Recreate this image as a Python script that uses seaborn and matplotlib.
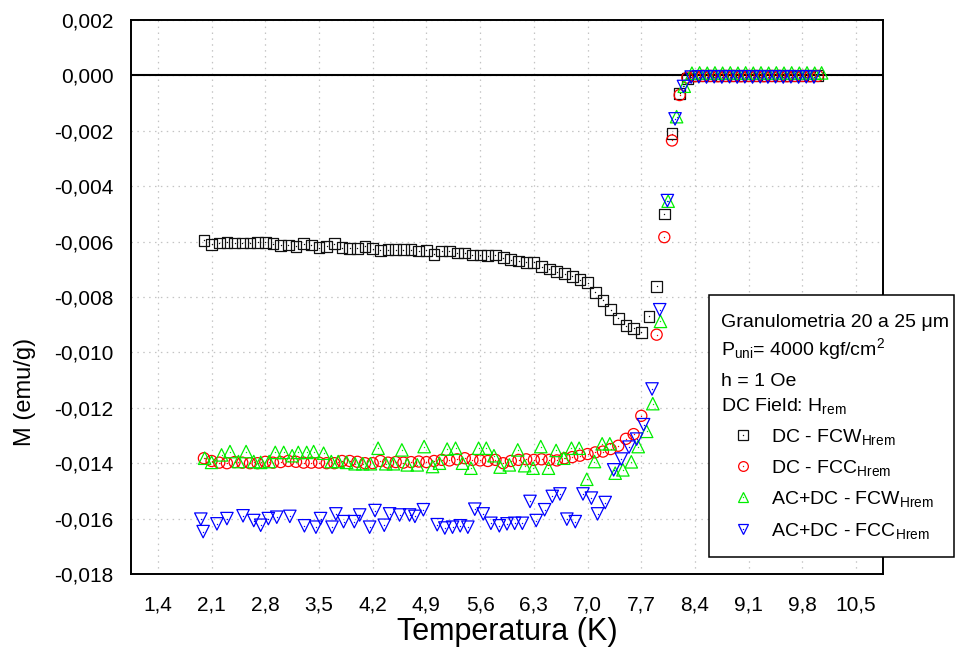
import numpy as np
import pandas as pd
import matplotlib
matplotlib.use("Agg")
import matplotlib.pyplot as plt
import seaborn as sns
from matplotlib import font_manager
from matplotlib.lines import Line2D
from matplotlib.patches import Rectangle
from matplotlib.ticker import FixedLocator, FuncFormatter

# ---------------- data ----------------
# DC - FCW (Hrem)  : black squares
T_dc_fcw = [2.0, 2.1, 2.2, 2.3, 2.4, 2.5, 2.6, 2.7, 2.8, 2.9,
            3.0, 3.1, 3.2, 3.3, 3.4, 3.5, 3.6, 3.7, 3.8, 3.9,
            4.0, 4.1, 4.2, 4.3, 4.4, 4.5, 4.6, 4.7, 4.8, 4.9,
            5.0, 5.1, 5.2, 5.3, 5.4, 5.5, 5.6, 5.7, 5.8, 5.9,
            6.0, 6.1, 6.2, 6.3, 6.4, 6.5, 6.6, 6.7, 6.8, 6.9,
            7.0, 7.1, 7.2, 7.3, 7.4, 7.5, 7.6, 7.7, 7.8, 7.9,
            8.0, 8.1, 8.2, 8.3, 8.4, 8.5, 8.6, 8.7, 8.8, 8.9,
            9.0, 9.1, 9.2, 9.3, 9.4, 9.5, 9.6, 9.7, 9.8, 9.9, 10.0]
M_dc_fcw = [-0.00595, -0.00610, -0.00605, -0.00602, -0.00605, -0.00605, -0.00605, -0.00602, -0.00602, -0.00607,
            -0.00614, -0.00612, -0.00617, -0.00607, -0.00612, -0.00622, -0.00617, -0.00607, -0.00622, -0.00624,
            -0.00624, -0.00617, -0.00626, -0.00631, -0.00629, -0.00629, -0.00629, -0.00629, -0.00634, -0.00631,
            -0.00646, -0.00634, -0.00634, -0.00641, -0.00641, -0.00648, -0.00648, -0.00651, -0.00648, -0.00658,
            -0.00665, -0.00670, -0.00675, -0.00675, -0.00691, -0.00699, -0.00708, -0.00716, -0.00725, -0.00737,
            -0.00749, -0.00783, -0.00812, -0.00846, -0.00877, -0.00904, -0.00913, -0.00928, -0.00870, -0.00761,
            -0.00500, -0.00211, -0.00065, -0.00010, -0.00002, 0.00000, 0.00001, 0.00000, 0.00001, 0.00000,
            0.00001, 0.00000, 0.00000, 0.00001, 0.00000, 0.00001, 0.00000, -0.00002, 0.00000, 0.00001, 0.00001]

# DC - FCC (Hrem)  : red circles
T_dc_fcc = [2.0, 2.1, 2.2, 2.3, 2.4, 2.5, 2.6, 2.7, 2.8, 2.9,
            3.0, 3.1, 3.2, 3.3, 3.4, 3.5, 3.6, 3.7, 3.8, 3.9,
            4.0, 4.1, 4.2, 4.3, 4.4, 4.5, 4.6, 4.7, 4.8, 4.9,
            5.0, 5.1, 5.2, 5.3, 5.4, 5.5, 5.6, 5.7, 5.8, 5.9,
            6.0, 6.1, 6.2, 6.3, 6.4, 6.5, 6.6, 6.7, 6.8, 6.9,
            7.0, 7.1, 7.2, 7.3, 7.4, 7.5, 7.6, 7.7, 7.9,
            8.0, 8.1, 8.2, 8.3, 8.4, 8.5, 8.6, 8.7, 8.8, 8.9,
            9.0, 9.1, 9.2, 9.3, 9.4, 9.5, 9.6, 9.7, 9.8, 9.9, 10.0]
M_dc_fcc = [-0.01382, -0.01392, -0.01398, -0.01400, -0.01396, -0.01398, -0.01400, -0.01400, -0.01395, -0.01398,
            -0.01396, -0.01392, -0.01395, -0.01398, -0.01398, -0.01398, -0.01400, -0.01400, -0.01392, -0.01392,
            -0.01395, -0.01400, -0.01400, -0.01392, -0.01398, -0.01396, -0.01398, -0.01396, -0.01394, -0.01396,
            -0.01392, -0.01388, -0.01390, -0.01386, -0.01382, -0.01388, -0.01390, -0.01392, -0.01388, -0.01400,
            -0.01392, -0.01388, -0.01386, -0.01388, -0.01386, -0.01388, -0.01390, -0.01382, -0.01378, -0.01373,
            -0.01367, -0.01361, -0.01358, -0.01349, -0.01337, -0.01312, -0.01295, -0.01229, -0.00936,
            -0.00584, -0.00235, -0.00071, -0.00008, -0.00003, -0.00002, -0.00002, -0.00003, -0.00002, -0.00002,
            -0.00003, -0.00002, -0.00002, -0.00003, -0.00002, -0.00002, -0.00003, -0.00002, -0.00002, -0.00003, -0.00002]

# AC+DC - FCW (Hrem) : green up-triangles
T_acdc_fcw = [2.01, 2.10, 2.23, 2.34, 2.45, 2.55, 2.65, 2.74, 2.85, 2.93,
              3.04, 3.15, 3.23, 3.34, 3.43, 3.56, 3.66, 3.75, 3.86, 3.97,
              4.07, 4.17, 4.27, 4.37, 4.47, 4.58, 4.65, 4.78, 4.87, 4.98,
              5.07, 5.17, 5.28, 5.37, 5.48, 5.58, 5.68, 5.78, 5.86, 5.98,
              6.09, 6.18, 6.29, 6.39, 6.49, 6.59, 6.69, 6.79, 6.89, 6.99,
              7.09, 7.19, 7.29, 7.36, 7.46, 7.57, 7.66, 7.77, 7.85, 7.95,
              8.05, 8.16, 8.26, 8.36, 8.46, 8.56, 8.66, 8.76, 8.86, 8.96,
              9.06, 9.16, 9.26, 9.36, 9.46, 9.56, 9.66, 9.76, 9.86, 9.96, 10.05]
M_acdc_fcw = [-0.01382, -0.01397, -0.01370, -0.01358, -0.01394, -0.01358, -0.01394, -0.01397, -0.01394, -0.01361,
              -0.01361, -0.01373, -0.01361, -0.01361, -0.01358, -0.01364, -0.01394, -0.01394, -0.01397, -0.01402,
              -0.01402, -0.01402, -0.01346, -0.01402, -0.01402, -0.01352, -0.01406, -0.01406, -0.01340, -0.01412,
              -0.01400, -0.01349, -0.01346, -0.01400, -0.01418, -0.01346, -0.01346, -0.01373, -0.01414, -0.01406,
              -0.01352, -0.01409, -0.01418, -0.01340, -0.01418, -0.01354, -0.01382, -0.01346, -0.01346, -0.01458,
              -0.01394, -0.01330, -0.01330, -0.01436, -0.01424, -0.01395, -0.01340, -0.01285, -0.01185, -0.00888,
              -0.00454, -0.00149, -0.00039, 0.00008, 0.00009, 0.00008, 0.00009, 0.00008, 0.00009, 0.00008,
              0.00009, 0.00008, 0.00009, 0.00008, 0.00009, 0.00008, 0.00009, 0.00008, 0.00009, 0.00008, 0.00009]

# AC+DC - FCC (Hrem) : blue down-triangles
T_acdc_fcc = [1.96, 1.99, 2.17, 2.30, 2.51, 2.65, 2.74, 2.84, 2.95, 3.12,
              3.31, 3.46, 3.52, 3.67, 3.72, 3.82, 3.96, 4.03, 4.16, 4.23,
              4.35, 4.42, 4.55, 4.68, 4.75, 4.86, 5.04, 5.14, 5.24, 5.34,
              5.44, 5.53, 5.64, 5.74, 5.85, 5.95, 6.05, 6.15, 6.25, 6.33,
              6.44, 6.54, 6.64, 6.73, 6.84, 6.94, 7.05, 7.13, 7.23, 7.34,
              7.44, 7.54, 7.64, 7.73, 7.84, 7.94, 8.04, 8.14, 8.25, 8.35,
              8.45, 8.55, 8.65, 8.75, 8.85, 8.95, 9.05, 9.15, 9.25, 9.35,
              9.45, 9.55, 9.65, 9.75, 9.85, 9.95]
M_acdc_fcc = [-0.01602, -0.01647, -0.01619, -0.01600, -0.01590, -0.01607, -0.01624, -0.01600, -0.01595, -0.01592,
              -0.01626, -0.01631, -0.01600, -0.01631, -0.01583, -0.01611, -0.01611, -0.01587, -0.01631, -0.01571,
              -0.01624, -0.01583, -0.01587, -0.01587, -0.01592, -0.01568, -0.01622, -0.01634, -0.01631, -0.01626,
              -0.01631, -0.01566, -0.01583, -0.01617, -0.01626, -0.01619, -0.01617, -0.01617, -0.01538, -0.01607,
              -0.01568, -0.01520, -0.01511, -0.01602, -0.01611, -0.01511, -0.01526, -0.01583, -0.01542, -0.01424,
              -0.01385, -0.01342, -0.01313, -0.01261, -0.01132, -0.00846, -0.00452, -0.00157, -0.00040, -0.00006,
              -0.00005, -0.00006, -0.00005, -0.00006, -0.00005, -0.00006, -0.00005, -0.00006, -0.00005, -0.00006,
              -0.00005, -0.00006, -0.00005, -0.00006, -0.00005, -0.00006]

series_names = ["DC - FCW", "DC - FCC", "AC+DC - FCW", "AC+DC - FCC"]
x_tick_values = [1.4, 2.1, 2.8, 3.5, 4.2, 4.9, 5.6, 6.3, 7.0, 7.7, 8.4, 9.1, 9.8, 10.5]
y_tick_values = [-0.018, -0.016, -0.014, -0.012, -0.010, -0.008, -0.006, -0.004, -0.002, 0.000, 0.002]

# ---------------- style ----------------
sns.set_theme(style="white")
plt.rcParams["font.family"] = ["Liberation Sans", "DejaVu Sans"]
plt.rcParams["mathtext.default"] = "regular"
for key in ["text.color", "axes.labelcolor", "xtick.color", "ytick.color", "axes.edgecolor"]:
    plt.rcParams[key] = "black"


def has_font(name):
    try:
        font_manager.findfont(font_manager.FontProperties(family=name), fallback_to_default=False)
        return True
    except Exception:
        return False


NARROW = "Liberation Sans Narrow" if has_font("Liberation Sans Narrow") else "Liberation Sans"

W, H = 955, 648
fig = plt.figure(figsize=(W / 100, H / 100), dpi=100)
ax = fig.add_axes([131 / W, (H - 574) / H, (883 - 131) / W, (574 - 20) / H])

colors = ["#111111", "#ff0000", "#00ee00", "#0000ff"]
markers = ["s", "o", "^", "v"]
sizes = [60, 64, 80, 80]
datasets = [(T_dc_fcw, M_dc_fcw), (T_dc_fcc, M_dc_fcc), (T_acdc_fcw, M_acdc_fcw), (T_acdc_fcc, M_acdc_fcc)]

ax.axhline(0, color="black", lw=1.5, zorder=2)

for (T, M), name, c, mk, s in zip(datasets, series_names, colors, markers, sizes):
    df = pd.DataFrame({"T": T, "M": M})
    sns.scatterplot(data=df, x="T", y="M", ax=ax, marker=mk, s=s, color=c,
                    facecolor="none", edgecolor=c, linewidth=0.9, zorder=3, legend=False)
    sns.scatterplot(data=df, x="T", y="M", ax=ax, marker="o", s=1.0, color=c,
                    linewidth=0, zorder=3, legend=False)

ax.set_xlim(1.05, 10.85)
ax.set_ylim(-0.018, 0.002)

ax.xaxis.set_major_locator(FixedLocator(x_tick_values))
ax.xaxis.set_minor_locator(FixedLocator([v - 0.35 for v in x_tick_values] + [x_tick_values[-1] + 0.35]))
ax.yaxis.set_major_locator(FixedLocator(y_tick_values))
ax.yaxis.set_minor_locator(FixedLocator([v + 0.001 for v in y_tick_values[:-1]]))
ax.xaxis.set_major_formatter(FuncFormatter(lambda v, p: f"{v:.1f}".replace(".", ",")))
ax.yaxis.set_major_formatter(FuncFormatter(lambda v, p: f"{v:.3f}".replace(".", ",").replace("\u2212", "-")))

ax.grid(True, which="major", color="#c4c4c4", linestyle=(0, (1.2, 3.5)), linewidth=0.9)
ax.set_axisbelow(True)
for sp in ax.spines.values():
    sp.set_visible(True)
    sp.set_color("black")
    sp.set_linewidth(1.4)

ax.tick_params(axis="both", which="both", direction="out", top=False, right=False,
               color="black", labelcolor="black", width=1.1)
ax.tick_params(axis="both", which="major", length=8.6)
ax.tick_params(axis="both", which="minor", length=4.3)
ax.tick_params(axis="y", which="major", labelsize=15, pad=4)
ax.tick_params(axis="x", which="major", labelsize=15, pad=7)
for lab in ax.get_xticklabels():
    lab.set_family(NARROW)

ax.set_xlabel("Temperatura (K)", fontsize=22, family=NARROW, color="black")
ax.xaxis.set_label_coords(0.5, (574 - 632) / 554)
ax.xaxis.label.set_verticalalignment("center")
ax.set_ylabel("M (emu/g)", fontsize=17, color="black")
ax.yaxis.set_label_coords((25 - 131) / 752, (574 - 392) / 554)
ax.yaxis.label.set_verticalalignment("center")

# ---------------- legend box (drawn in figure pixels) ----------------
def fx(px):
    return px / W


def fy(py):
    return 1 - py / H


fig.add_artist(Rectangle((fx(709), fy(557)), fx(954) - fx(709), fy(295) - fy(557),
                         transform=fig.transFigure, facecolor="white", edgecolor="black",
                         linewidth=1.1, zorder=5))
header = ["Granulometria 20 a 25 \u03bcm", "P$_{uni}$= 4000 kgf/cm$^{2}$", "h = 1 Oe", "DC Field: H$_{rem}$"]
header_y = [320, 348, 379, 404]
for txt, yy in zip(header, header_y):
    fig.text(fx(721), fy(yy + 7), txt, fontsize=14, ha="left", va="baseline", color="black", zorder=6)

entry_y = [435, 466, 497, 529]
for name, c, mk, yy in zip(series_names, colors, markers, entry_y):
    fig.add_artist(Line2D([fx(743)], [fy(yy)], transform=fig.transFigure, marker=mk,
                          markersize=7.0, markerfacecolor="none", markeredgecolor=c,
                          markeredgewidth=0.9, linestyle="none", zorder=6))
    fig.add_artist(Line2D([fx(743)], [fy(yy)], transform=fig.transFigure, marker="o",
                          markersize=1.0, markerfacecolor=c, markeredgewidth=0,
                          linestyle="none", zorder=6))
    fig.text(fx(771), fy(yy + 7), name + "$_{Hrem}$", fontsize=14, ha="left", va="baseline",
             color="black", zorder=6)

fig.savefig("out.png", dpi=100)
